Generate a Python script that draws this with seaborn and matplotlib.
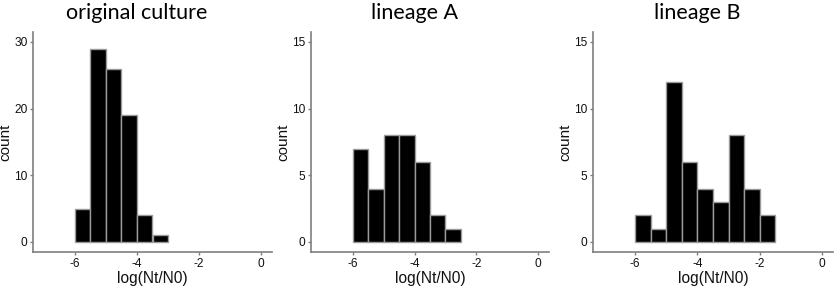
import matplotlib
matplotlib.use("Agg")
import matplotlib.pyplot as plt
import seaborn as sns
import numpy as np
import pandas as pd

titles = ["original culture", "lineage A", "lineage B"]
bin_width = 0.5
start_edge = -6.0
counts_original = [5, 29, 26, 19, 4, 1]
counts_lineage_a = [7, 4, 8, 8, 6, 2, 1]
counts_lineage_b = [2, 1, 12, 6, 4, 3, 8, 4, 2]
y_ticks_list = [[0, 10, 20, 30], [0, 5, 10, 15], [0, 5, 10, 15]]
y_max_list = [30, 15, 15]
x_ticks = [-6, -4, -2, 0]

sns.set_style("white")
plt.rcParams['font.family'] = ['Liberation Sans', 'DejaVu Sans']

fig = plt.figure(figsize=(8.36, 2.86), dpi=100)
W, H = 836, 286
boxes = [(33, 272), (311, 549), (593, 833)]
top, bottom = 32, 252
all_counts = [counts_original, counts_lineage_a, counts_lineage_b]
axis_col = "#7f7f7f"

for i, (counts, title) in enumerate(zip(all_counts, titles)):
    l, r = boxes[i]
    ax = fig.add_axes([l / W, 1 - bottom / H, (r - l) / W, (bottom - top) / H])
    n = len(counts)
    edges = [float(e) for e in start_edge + bin_width * np.arange(n + 1)]
    centers = [(edges[k] + edges[k + 1]) / 2 for k in range(n)]
    df = pd.DataFrame({"x": centers, "w": counts})
    sns.histplot(data=df, x="x", weights="w", bins=edges, ax=ax,
                 color="black", edgecolor="#9a9a9a", linewidth=1.0, alpha=1)
    ax.set_xlim(-7.35, 0.35)
    ym = y_max_list[i]
    ax.set_ylim(-0.05 * ym, 1.05 * ym)
    ax.set_xticks(x_ticks)
    ax.set_xticklabels([str(t) for t in x_ticks])
    ax.set_yticks(y_ticks_list[i])
    ax.set_xlabel("log(Nt/N0)", fontsize=11.2, color="#111111", labelpad=1)
    ax.set_ylabel("count", fontsize=11, color="#111111", labelpad=1)
    title_x = 0.5 - 15.5 / (r - l)
    ax.set_title(title, fontsize=15.5, family=["Lato", "DejaVu Sans"], pad=9.5,
                 color="#000000", x=title_x)
    for s in ["top", "right"]:
        ax.spines[s].set_visible(False)
    for s in ["left", "bottom"]:
        ax.spines[s].set_color(axis_col)
        ax.spines[s].set_linewidth(1.2)
    ax.tick_params(axis="both", which="both", length=2.5, width=1, color=axis_col,
                   labelsize=8.6, labelcolor="#111111", pad=1.5,
                   bottom=True, left=True)

fig.savefig("out.png", dpi=100)
